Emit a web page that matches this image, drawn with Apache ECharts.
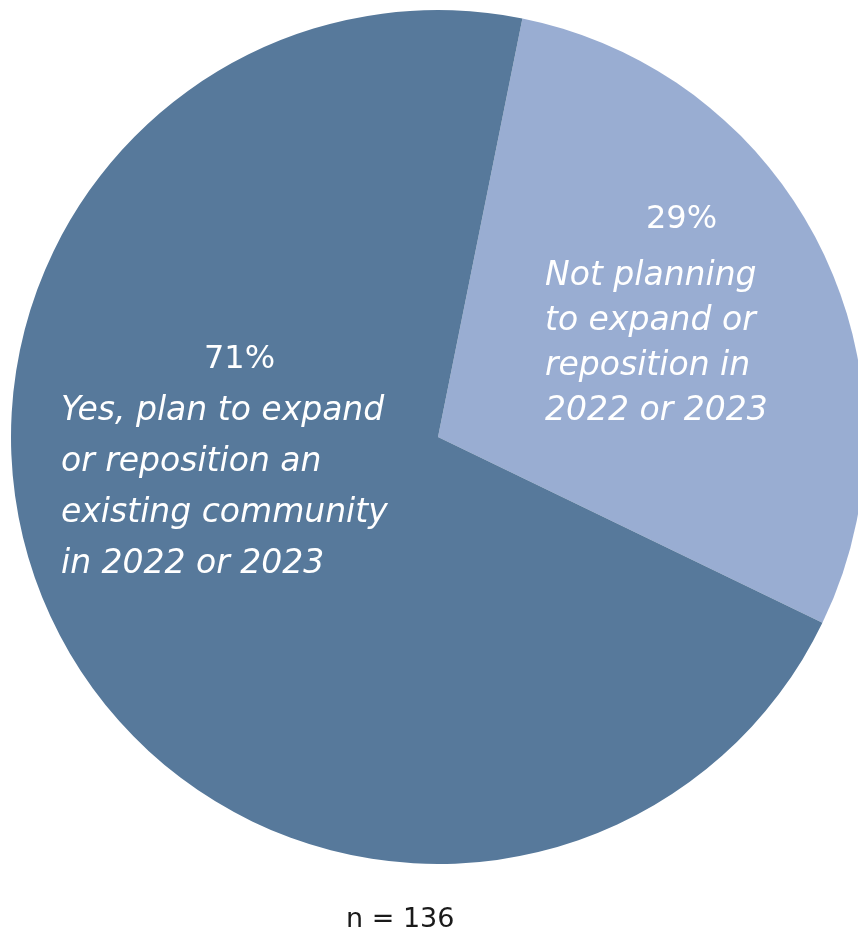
<!DOCTYPE html>
<html><head><meta charset="utf-8">
<script src="https://cdn.jsdelivr.net/npm/echarts@6/dist/echarts.min.js"></script>
<style>html,body{margin:0;padding:0;background:#fff}#c{width:858px;height:936px}</style>
</head><body><div id="c"></div>
<script>
var categories = ['Not planning to expand or reposition in 2022 or 2023', 'Yes, plan to expand or reposition an existing community in 2022 or 2023'];
var labelLines = [
  ['Not planning', 'to expand or', 'reposition in', '2022 or 2023'],
  ['Yes, plan to expand', 'or reposition an', 'existing community', 'in 2022 or 2023']
];
var values = [29, 71];
var colors = ['#99add2', '#57799b'];
var note = 'n = 136';

var labelPos = [{x: 545, y: 185, pad: 101, plh: 69, tlh: 45}, {x: 61, y: 333, pad: 143, plh: 53, tlh: 51}];
var FONT = 'DejaVu Sans';

var chart = echarts.init(document.getElementById('c'), null, {renderer: 'canvas'});
var data = values.map(function (v, i) {
  return {
    name: categories[i], value: v,
    itemStyle: {color: colors[i]},
    label: {
      formatter: '{p|' + v + '%}\n' + labelLines[i].map(function (l) { return '{t|' + l + '}'; }).join('\n'),
      rich: {
        p: {fontFamily: FONT, fontStyle: 'normal', fontWeight: 'normal', fontSize: 32, color: '#fff', lineHeight: labelPos[i].plh, padding: [0, 0, 0, labelPos[i].pad], align: 'left'},
        t: {fontFamily: FONT, fontStyle: 'italic', fontWeight: 'normal', fontSize: 33, color: '#fff', lineHeight: labelPos[i].tlh, align: 'left'}
      }
    }
  };
});
chart.setOption({
  animation: false,
  series: [{
    type: 'pie',
    center: [438, 437],
    radius: [0, 427],
    startAngle: 78.6,
    clockwise: true,
    silent: true,
    data: data,
    label: {show: true, position: 'inside', color: '#fff'},
    labelLine: {show: false},
    labelLayout: function (p) {
      var lp = labelPos[p.dataIndex];
      return {x: lp.x, y: lp.y, align: 'left', verticalAlign: 'top'};
    },
    itemStyle: {borderWidth: 0}
  }],
  graphic: [{
    type: 'text', left: 346, top: 906,
    style: {text: note, fontFamily: FONT, fontWeight: 'normal', fontSize: 27, fill: '#1a1a1a'}
  }]
});
</script></body></html>
